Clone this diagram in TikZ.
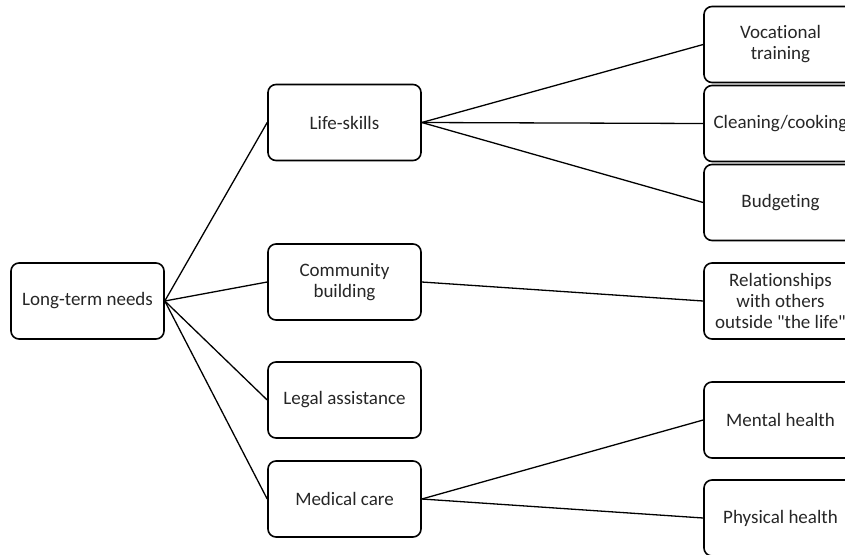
\documentclass[tikz,border=0pt]{standalone}
\usepackage{fontspec}
\setmainfont{Carlito}[Ligatures={TeXOff,NoCommon}]
\usetikzlibrary{positioning}

\begin{document}
\begin{tikzpicture}[
  x=1pt, y=-1pt,
  every node/.style={text=black!85, font=\fontsize{19}{21}\selectfont},
  box/.style={draw=black, rounded corners=8pt, line width=1.6pt, align=center,
    minimum width=153pt, minimum height=76pt, inner sep=0pt},
  edge/.style={line width=1.3pt, draw=black}
]
\clip (0,0) rectangle (845,554);
\useasboundingbox (0,0) rectangle (845,554);

% ---- root ----
\node[box] (LT) at (87.5,301) {Long-term needs};

% ---- middle level ----
\node[box] (LS) at (344.5,122.5) {Life-skills};
\node[box] (CB) at (344.5,282) {Community\\building};
\node[box] (LA) at (344.5,400) {Legal assistance};
\node[box] (MC) at (344.5,499) {Medical care};

% ---- right level ----
\node[box] (VT) at (780.5,44.5) {Vocational\\training};
\node[box] (CC) at (780.5,123.5) {Cleaning/cooking};
\node[box] (BU) at (780.5,202.5) {Budgeting};
\node[box] (RO) at (780.5,301) {Relationships\\with others\\outside "the life"};
\node[box] (MH) at (780.5,420) {Mental health};
\node[box] (PH) at (780.5,518) {Physical health};

% ---- edges: root to middle ----
\draw[edge] (LT.east) -- (LS.west);
\draw[edge] (LT.east) -- (CB.west);
\draw[edge] (LT.east) -- (LA.west);
\draw[edge] (LT.east) -- (MC.west);

% ---- edges: middle to right ----
\draw[edge] (LS.east) -- (VT.west);
\draw[edge] (LS.east) -- (CC.west);
\draw[edge] (LS.east) -- (BU.west);
\draw[edge] (CB.east) -- (RO.west);
\draw[edge] (MC.east) -- (MH.west);
\draw[edge] (MC.east) -- (PH.west);

\end{tikzpicture}
\end{document}
